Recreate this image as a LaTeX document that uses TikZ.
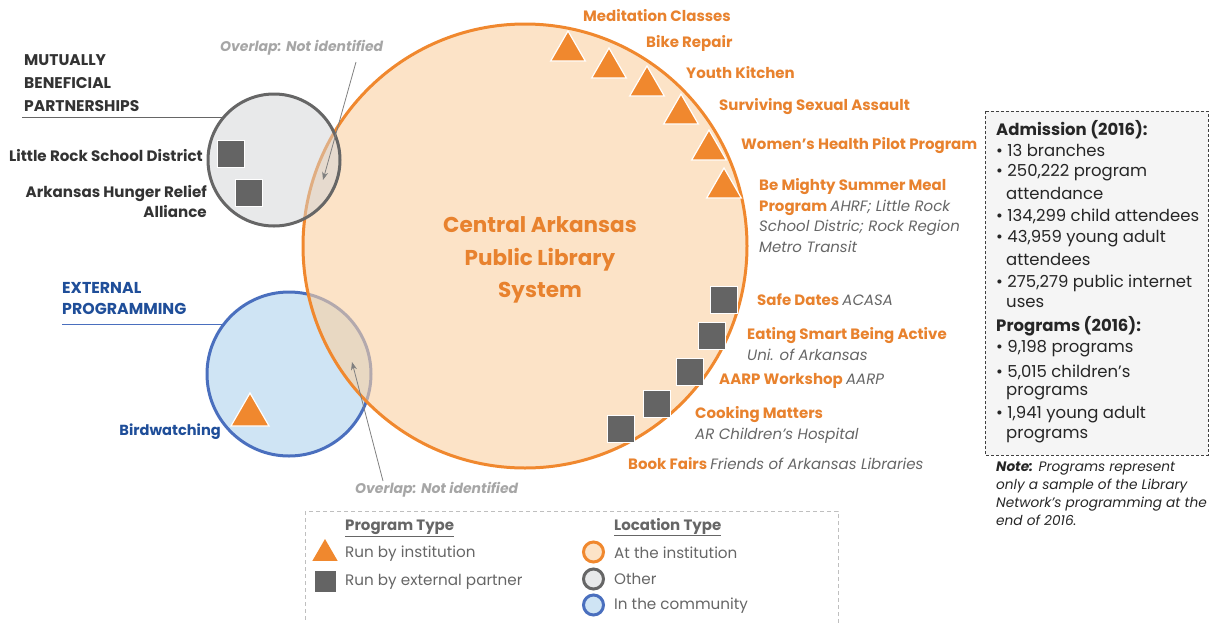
\documentclass[tikz,border=0pt]{standalone}
\usepackage{fontspec}
\setmainfont{Poppins}
\usetikzlibrary{shapes.geometric,arrows.meta}
\definecolor{instorange}{HTML}{F0882E}
\definecolor{insttext}{HTML}{E8822E}
\definecolor{instfill}{HTML}{FAD0A2}
\definecolor{othergray}{HTML}{666666}
\definecolor{otherfill}{HTML}{D1D3D5}
\definecolor{commblue}{HTML}{4A6FBE}
\definecolor{commfill}{HTML}{CFE4F4}
\definecolor{commtext}{HTML}{1F4E99}
\definecolor{sqgray}{HTML}{646464}
\definecolor{notegray}{HTML}{A6A6A6}
\newcommand{\fs}[2]{\fontsize{#1}{#2}\selectfont}
\tikzset{
  prog/.style={anchor=west, inner sep=0, text=insttext, font=\fs{15}{20.5}\bfseries, align=left},
  heading/.style={inner sep=0, font=\fs{15.5}{23}\bfseries, align=left},
  tri/.style={regular polygon, regular polygon sides=3, fill=instorange, draw=white, line width=1.2pt, minimum size=40pt, inner sep=0},
  sq/.style={rectangle, fill=sqgray, draw=white, line width=1.2pt, minimum size=27pt, inner sep=0},
  stat/.style={anchor=west, inner sep=0, text=black!85, font=\fs{16.5}{20}},
  legtext/.style={anchor=west, inner sep=0, text=othergray, font=\fs{15.2}{16}},
}
\newcommand{\partner}[1]{{\mdseries\itshape\color{othergray}#1}}
\begin{document}
\begin{tikzpicture}[x=1pt, y=-1pt]
\useasboundingbox (0,0) rectangle (1211,622);

% location circles
\draw[commblue, line width=3pt, fill=commfill] (289,374) circle[radius=82pt];
\draw[instorange, line width=3pt, fill=instfill, fill opacity=0.6] (525,246) circle[radius=222pt];
\draw[othergray, line width=3pt, fill=otherfill, fill opacity=0.5] (274,160) circle[radius=66pt];

\node[font=\fs{21.5}{32.5}\bfseries, text=insttext, align=center] (capls) at (540,260) {Central Arkansas\\Public Library\\System};

% left headings
\node[heading, anchor=west, text=black!80] (mbp) at (24,83) {MUTUALLY\\BENEFICIAL\\PARTNERSHIPS};
\draw[othergray, line width=1pt] (22,117) -- (224,117);
\node[heading, anchor=west, text=commtext, font=\fs{15.8}{21}\bfseries] (extp) at (62,298.5) {EXTERNAL\\PROGRAMMING};
\draw[commblue, line width=1pt] (62,324) -- (224,324);

% partnerships
\node[sq] (lrsd) at (231,154) {};
\node[sq] (ahra) at (249,193) {};
\node[heading, anchor=east, text=black!80, font=\fs{15.1}{20}\bfseries, align=right] at (203,156) {Little Rock School District};
\node[heading, anchor=east, text=black!80, font=\fs{15.1}{20}\bfseries, align=right] at (207,202) {Arkansas Hunger Relief\\Alliance};

% external programming
\node[tri, minimum size=44pt] (bird) at (250,415) {};
\node[heading, anchor=east, text=commtext, font=\fs{14.6}{20}\bfseries] at (221,432) {Birdwatching};

% overlaps
\node[anchor=west, inner sep=0, text=notegray, font=\fs{14}{16}\bfseries\itshape] (ovtop) at (220,48) {Overlap: Not identified};
\node[anchor=west, inner sep=0, text=notegray, font=\fs{14}{16}\bfseries\itshape] (ovbot) at (355,490) {Overlap: Not identified};
\coordinate (ovtopstart) at (356,62);
\coordinate (ovtopend) at (323,180);
\coordinate (ovbotstart) at (383,481);
\coordinate (ovbotend) at (352,362);
\draw[gray, line width=0.8pt, -{Stealth[length=8pt,width=6pt]}] (ovtopstart) -- (ovtopend);
\draw[gray, line width=0.8pt, -{Stealth[length=8pt,width=6pt]}] (ovbotstart) -- (ovbotend);

% programs run by institution
\node[tri] (medit) at (568,51) {};
\node[tri] (bike) at (609,68) {};
\node[tri] (youth) at (647,86) {};
\node[tri] (surv) at (681,114) {};
\node[tri] (women) at (709,150) {};
\node[tri] (mighty) at (724,188) {};
\node[prog] at (583,16) {Meditation Classes};
\node[prog] at (646,43) {Bike Repair};
\node[prog] at (686,73) {Youth Kitchen};
\node[prog] at (719,107) {Surviving Sexual Assault};
\node[prog] at (741,146) {Women's Health Pilot Program};
\node[prog] at (759,215.5) {Be Mighty Summer Meal\\Program \partner{AHRF; Little Rock}\\\partner{School Distric; Rock Region}\\\partner{Metro Transit}};

% programs run by external partners
\node[sq] (safe) at (724,300) {};
\node[sq] (eat) at (712,336) {};
\node[sq] (aarp) at (690,372) {};
\node[sq] (cook) at (657,404) {};
\node[sq] (book) at (621,429) {};
\node[prog] at (757,300) {Safe Dates \partner{ACASA}};
\node[prog] at (747,344) {Eating Smart Being Active\\\partner{Uni. of Arkansas}};
\node[prog] at (719,381) {AARP Workshop \partner{AARP}};
\node[prog, font=\fs{15}{21}\bfseries] at (695,424.5) {Cooking Matters\\\partner{AR Children's Hospital}};
\node[prog] at (628,464) {Book Fairs \partner{Friends of Arkansas Libraries}};

% statistics box
\draw[black!75, line width=0.8pt, dash pattern=on 3pt off 2pt, fill=black!4] (985,111) rectangle (1208,455);
\foreach \y/\t in {130/{\bfseries Admission (2016):}, 150/{• 13 branches}, 173/{• 250,222 program},
  216/{• 134,299 child attendees}, 239/{• 43,959 young adult}, 283/{• 275,279 public internet},
  326/{\bfseries Programs (2016):}, 349/{• 9,198 programs}, 372/{• 5,015 children's}, 415/{• 1,941 young adult}}
  \node[stat] at (996,\y) {\t};
\foreach \y/\t in {193/attendance, 259/attendees, 303/uses, 393/programs, 436/programs}
  \node[stat] at (1006,\y) {\t};
\node[stat, anchor=north west, font=\fs{13.7}{18}\itshape, align=left] (note) at (996,462) {{\bfseries Note:} Programs represent\\only a sample of the Library\\Network's programming at the\\end of 2016.};

% legend
\draw[black!25, line width=0.8pt, dash pattern=on 4pt off 3pt] (305,511) rectangle (838,640);
\node[legtext, font=\fs{15}{16}\bfseries] at (345,528) {\underline{Program Type}};
\node[tri, minimum size=29pt, draw=none] (legtri) at (325,553.5) {};
\node[sq, minimum size=21pt, draw=none] (legsq) at (325.5,581.5) {};
\node[legtext] at (345,554) {Run by institution};
\node[legtext] at (345,582) {Run by external partner};
\node[legtext, font=\fs{15}{16}\bfseries] at (614,527) {\underline{Location Type}};
\draw[instorange, line width=3pt, fill=instfill!60] (593.5,552) circle[radius=10pt];
\draw[othergray, line width=3pt, fill=otherfill!50] (593.5,579) circle[radius=10pt];
\draw[commblue, line width=3pt, fill=commfill] (593.5,605) circle[radius=10pt];
\node[legtext] at (614,553) {At the institution};
\node[legtext] at (614,579) {Other};
\node[legtext] at (614,606) {In the community};
\end{tikzpicture}
\end{document}
